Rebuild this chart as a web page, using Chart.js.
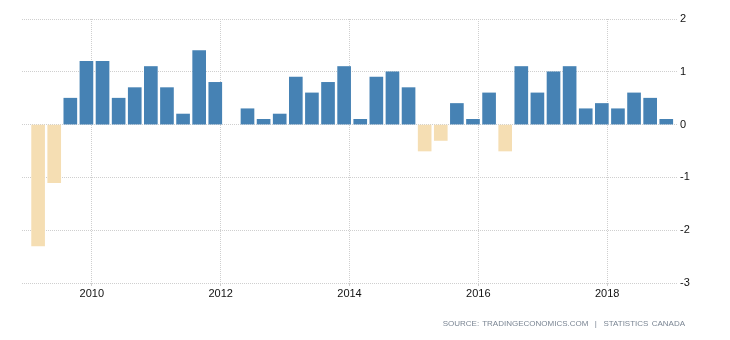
<!DOCTYPE html>
<html>
<head>
<meta charset="utf-8">
<script src="https://cdn.jsdelivr.net/npm/chart.js@4"></script>
<style>
  html, body { margin: 0; padding: 0; background: #ffffff; }
  #wrap { position: relative; width: 730px; height: 340px; }
  #fonte {
    position: absolute;
    right: 45px;
    top: 319px;
    font: 8px 'Liberation Sans', Arial, sans-serif;
    color: #7a8593;
    word-spacing: 1px;
    white-space: nowrap;
  }
</style>
</head>
<body>
<div id="wrap">
  <canvas id="grafico" width="730" height="340"></canvas>
  <div id="fonte">SOURCE: TRADINGECONOMICS.COM &nbsp;| &nbsp;STATISTICS CANADA</div>
</div>
<script>
const trimestres = [
  '2009 Q1', '2009 Q2', '2009 Q3', '2009 Q4',
  '2010 Q1', '2010 Q2', '2010 Q3', '2010 Q4',
  '2011 Q1', '2011 Q2', '2011 Q3', '2011 Q4',
  '2012 Q1', '2012 Q2', '2012 Q3', '2012 Q4',
  '2013 Q1', '2013 Q2', '2013 Q3', '2013 Q4',
  '2014 Q1', '2014 Q2', '2014 Q3', '2014 Q4',
  '2015 Q1', '2015 Q2', '2015 Q3', '2015 Q4',
  '2016 Q1', '2016 Q2', '2016 Q3', '2016 Q4',
  '2017 Q1', '2017 Q2', '2017 Q3', '2017 Q4',
  '2018 Q1', '2018 Q2', '2018 Q3', '2018 Q4',
];

const valores = [
  -2.3, -1.1, 0.5, 1.2,
  1.2, 0.5, 0.7, 1.1,
  0.7, 0.2, 1.4, 0.8,
  0, 0.3, 0.1, 0.2,
  0.9, 0.6, 0.8, 1.1,
  0.1, 0.9, 1.0, 0.7,
  -0.5, -0.3, 0.4, 0.1,
  0.6, -0.5, 1.1, 0.6,
  1.0, 1.1, 0.3, 0.4,
  0.3, 0.6, 0.5, 0.1,
];

const anosEixo = [2010, 2012, 2014, 2016, 2018];
const ticksY = [-3, -2, -1, 0, 1, 2];

// barra fica no ultimo mes do trimestre
function posicaoTrimestre(rotulo) {
  const [ano, q] = rotulo.split(' Q');
  return Number(ano) + (Number(q) * 3 - 1) / 12;
}

function corDaBarra(valor) {
  if (valor > 0) return '#4682b4';
  if (valor < 0) return '#f5deb3';
  return 'rgba(0,0,0,0)';
}

const pontos = trimestres.map((rotulo, i) => ({ x: posicaoTrimestre(rotulo), y: valores[i] }));

const fonteEixo = { family: "'Liberation Sans', Arial, sans-serif", size: 11 };

new Chart(document.querySelector('#grafico'), {
  type: 'bar',
  data: {
    datasets: [
      {
        data: pontos,
        backgroundColor: valores.map(corDaBarra),
        barThickness: 13,
        borderWidth: 0,
      },
    ],
  },
  options: {
    responsive: false,
    animation: false,
    layout: {
      padding: { left: 22, top: 19, right: 0, bottom: 0 },
    },
    plugins: {
      legend: { display: false },
      tooltip: { enabled: false },
    },
    scales: {
      x: {
        type: 'linear',
        offset: false,
        min: 2008 + 11 / 12,
        max: 2019 + 1 / 12,
        afterBuildTicks: (scale) => {
          scale.ticks = anosEixo.map((ano) => ({ value: ano }));
        },
        afterFit: (scale) => {
          scale.height = 57;
        },
        border: { display: false, dash: [1, 1] },
        grid: {
          color: '#cfcfcf',
          offset: false,
          drawTicks: true,
          tickLength: 3,
        },
        ticks: {
          autoSkip: false,
          maxRotation: 0,
          padding: 1,
          color: '#111111',
          font: fonteEixo,
          callback: (value) => String(value),
        },
      },
      y: {
        position: 'right',
        min: -3,
        max: 2,
        afterBuildTicks: (scale) => {
          scale.ticks = ticksY.map((v) => ({ value: v }));
        },
        afterFit: (scale) => {
          scale.width = 53;
        },
        border: { display: false, dash: [1, 1] },
        grid: {
          color: '#cfcfcf',
          drawTicks: false,
        },
        ticks: {
          padding: 3,
          color: '#111111',
          font: fonteEixo,
        },
      },
    },
  },
});
</script>
</body>
</html>
